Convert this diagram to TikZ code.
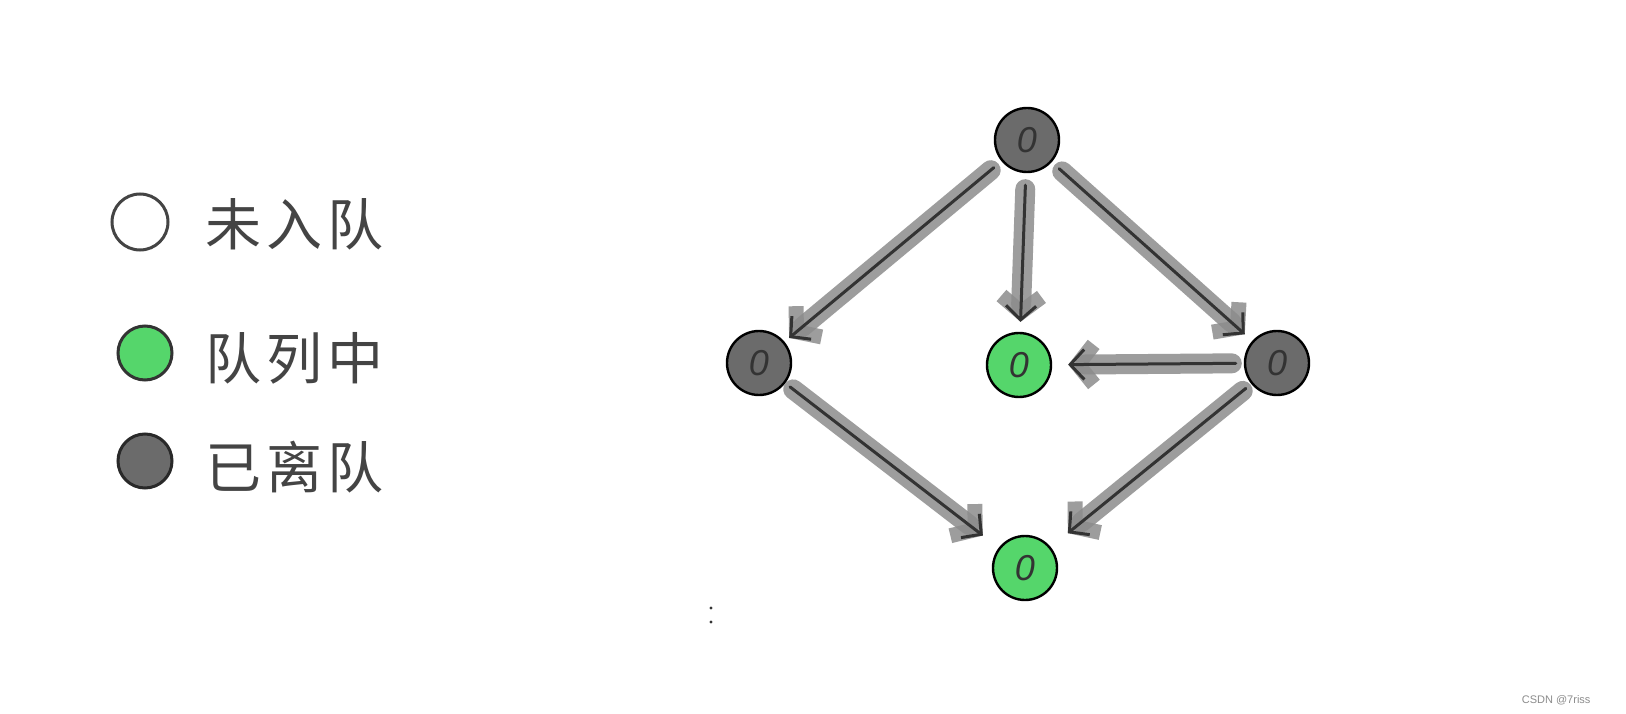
\documentclass[tikz,border=0pt]{standalone}
\usepackage{fontspec}
\newfontfamily\cjk{Noto Sans CJK SC}
\newfontfamily\wm{Liberation Sans}
\usetikzlibrary{arrows.meta}
\definecolor{darknode}{HTML}{6B6B6B}
\definecolor{greennode}{HTML}{55D66B}
\definecolor{band}{HTML}{8C8C8C}
\definecolor{ink}{HTML}{333333}
\definecolor{legendink}{HTML}{444444}
\tikzset{
  vtx/.style={circle, draw=black, line width=2.4pt, minimum size=64pt, inner sep=0pt,
    font=\wm\itshape\fontsize{36}{36}\selectfont, text=ink},
  gone/.style={vtx, fill=darknode},
  queued/.style={vtx, fill=greennode},
  legcirc/.style={circle, line width=3pt, draw=legendink, minimum size=56pt, inner sep=0pt},
  legtext/.style={anchor=west, text=legendink, font=\cjk\fontsize{56}{60}\selectfont},
  bandline/.style={draw=band, opacity=0.85, line width=20pt, line cap=round,
    -{Straight Barb[length=16pt,width=40pt,line width=15pt]}},
  inkline/.style={draw=ink, line width=3pt, line cap=round,
    -{Straight Barb[length=14pt,width=30pt,line width=3pt]}}
}
\newcommand{\hedge}[4]{%
  \draw[bandline, shorten <=#3+4pt, shorten >=#4] (#1) -- (#2);
  \draw[inkline, shorten <=#3, shorten >=#4] (#1) -- (#2);
}
\newcommand{\gap}{\hspace{5pt}}
\begin{document}
\begin{tikzpicture}[x=1pt,y=-1pt]
\useasboundingbox[fill=white] (0,0) rectangle (1626,714);
% legend
\node[legcirc, fill=white] (l1) at (140,222) {};
\node[legcirc, fill=greennode, draw=ink, minimum size=54pt] (l2) at (145,353) {};
\node[legcirc, fill=darknode, draw=ink!80!black, minimum size=54pt] (l3) at (145,461) {};
\node[legtext] (t1) at (202,224) {未\gap 入\gap 队};
\node[legtext] (t2) at (202,358) {队\gap 列\gap 中};
\node[legtext] (t3) at (202,467) {已\gap 离\gap 队};
% graph nodes
\node[gone] (top) at (1027,140) {0};
\node[gone] (left) at (759,363) {0};
\node[queued] (mid) at (1019,365) {0};
\node[gone] (right) at (1277,363) {0};
\node[queued] (bot) at (1025,568) {0};
% edges
\hedge{top}{left}{10pt}{6pt}
\hedge{top}{mid}{12pt}{10pt}
\hedge{top}{right}{10pt}{10pt}
\hedge{right}{mid}{8pt}{16pt}
\hedge{left}{bot}{6pt}{20pt}
\hedge{right}{bot}{7pt}{22pt}
% stray dots
\fill[ink] (711,608) circle (1.6pt);
\fill[ink] (711,622) circle (1.6pt);
% watermark
\node[anchor=east, text=black!45, font=\wm\fontsize{11}{12}\selectfont] (wmk) at (1594,700) {CSDN @7riss};
\end{tikzpicture}
\end{document}
